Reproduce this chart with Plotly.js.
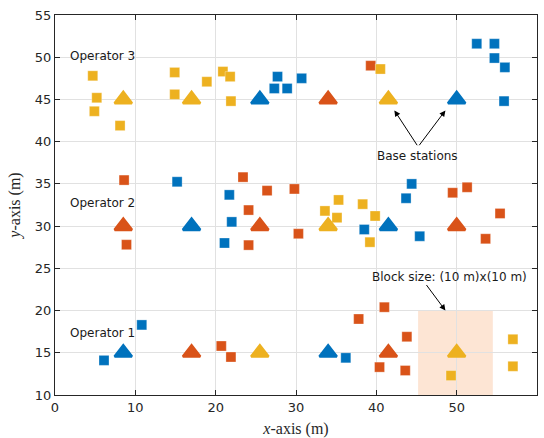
<!DOCTYPE html>
<html>
<head>
<meta charset="utf-8">
<script src="https://cdn.plot.ly/plotly-3.0.1.min.js"></script>
<style>html,body{margin:0;padding:0;background:#fff;}#chart{width:544px;height:438px;}</style>
</head>
<body>
<div id="chart"></div>
<script>
// Users (squares) by colour
const blueUserX = [27.7,27.3,28.9,30.7,52.5,54.7,54.7,56.0,55.9,15.2,21.7,22.0,21.1,38.5,44.4,43.7,45.4,6.1,10.8,36.2];
const blueUserY = [47.7,46.3,46.3,47.5,51.6,51.6,49.9,48.8,44.8,35.25,33.7,30.5,28.0,29.6,35.0,33.3,28.8,14.1,18.3,14.4];
const redUserX = [39.3,8.6,23.4,26.4,29.8,24.1,8.9,24.1,30.3,49.5,51.3,55.4,53.6,20.7,21.9,37.8,41.0,43.8,40.4,43.6];
const redUserY = [49.0,35.45,35.8,34.2,34.4,31.9,27.8,27.75,29.1,33.95,34.6,31.5,28.5,15.8,14.5,19.0,20.4,16.9,13.3,12.9];
const yellowUserX = [4.7,5.2,4.9,8.1,14.9,14.9,18.9,20.9,21.8,21.9,40.5,35.3,33.6,35.1,38.3,39.85,39.2,49.3,57.0,57.0];
const yellowUserY = [47.8,45.2,43.6,41.9,48.2,45.6,47.1,48.3,47.7,44.8,48.6,33.1,31.8,31.0,32.6,31.2,28.1,12.3,16.6,13.4];
// Base stations (triangles) by colour
const blueBsX = [8.5,34,17,41.5,25.5,50];
const blueBsY = [15,15,30,30,45,45];
const redBsX = [17,41.5,8.5,25.5,50,34];
const redBsY = [15,15,30,30,30,45];
const yellowBsX = [25.5,50,34,8.5,17,41.5];
const yellowBsY = [15,15,30,45,45,45];
// Text labels
const opLabels = ["Operator 1","Operator 2","Operator 3"];
const opLabelY = [17.4,32.7,50.1];
const xTicks = [0,10,20,30,40,50,60];
const yTicks = [10,15,20,25,30,35,40,45,50,55];

const C_BLUE = '#0072BD', C_RED = '#D95319', C_YEL = '#EDB120';
function users(x,y,c){return {x:x,y:y,type:'scatter',mode:'markers',hoverinfo:'skip',
  marker:{symbol:'square',size:10,color:c,line:{width:0.6,color:'rgba(255,255,255,0.5)'}}};}
function bs(x,y,c){return {x:x,y:y,type:'scatter',mode:'markers',hoverinfo:'skip',
  marker:{symbol:'triangle-up',size:15,color:c,line:{width:2.6,color:c}}};}

const data = [
  users(blueUserX,blueUserY,C_BLUE), users(redUserX,redUserY,C_RED), users(yellowUserX,yellowUserY,C_YEL),
  bs(blueBsX,blueBsY,C_BLUE), bs(redBsX,redBsY,C_RED), bs(yellowBsX,yellowBsY,C_YEL)
];

const txtFont = {family:'DejaVu Sans, sans-serif', size:12, color:'#1a1a1a'};
const annotations = opLabels.map((t,i)=>({x:1.6,y:opLabelY[i],xref:'x',yref:'y',text:t,showarrow:false,
  xanchor:'left',yanchor:'middle',font:txtFont}));
annotations.push({x:45.1,y:38.3,xref:'x',yref:'y',text:'Base stations',showarrow:false,font:txtFont,xanchor:'center',yanchor:'middle'});
annotations.push({x:42.25,y:43.7,ax:45.2,ay:39.4,xref:'x',yref:'y',axref:'x',ayref:'y',text:'',showarrow:true,arrowhead:2,arrowsize:1.2,arrowwidth:1,arrowcolor:'#000'});
annotations.push({x:48.6,y:43.7,ax:45.2,ay:39.4,xref:'x',yref:'y',axref:'x',ayref:'y',text:'',showarrow:true,arrowhead:2,arrowsize:1.2,arrowwidth:1,arrowcolor:'#000'});
annotations.push({x:49.1,y:24.0,xref:'x',yref:'y',text:'Block size: (10 m)x(10 m)',showarrow:false,font:txtFont,xanchor:'center',yanchor:'middle'});
annotations.push({x:48.6,y:20.0,ax:46.1,ay:23.2,xref:'x',yref:'y',axref:'x',ayref:'y',text:'',showarrow:true,arrowhead:2,arrowsize:1.2,arrowwidth:1,arrowcolor:'#000'});

const axCommon = {showline:true,linecolor:'#262626',linewidth:1,mirror:'ticks',ticks:'inside',ticklen:5,tickcolor:'#262626',
  showgrid:true,gridcolor:'#e1e1e1',gridwidth:1,zeroline:false,
  tickfont:{family:'DejaVu Sans, sans-serif',size:13,color:'#262626'}};

const layout = {
  width:544,height:438,margin:{l:55,r:7,t:15,b:43},
  paper_bgcolor:'#fff',plot_bgcolor:'#fff',showlegend:false,
  xaxis:Object.assign({},axCommon,{range:[0,60],tickvals:xTicks,ticktext:xTicks.map(String),
    title:{text:'<i>x</i>-axis (m)',font:{family:'Liberation Serif, serif',size:16,color:'#262626'},standoff:12}}),
  yaxis:Object.assign({},axCommon,{range:[10,55],tickvals:yTicks,ticktext:yTicks.map(String),
    title:{text:'<i>y</i>-axis (m)',font:{family:'Liberation Serif, serif',size:16,color:'#262626'},standoff:10}}),
  shapes:[{type:'rect',xref:'x',yref:'y',x0:45.2,x1:54.5,y0:10,y1:20,fillcolor:'rgb(253,229,212)',line:{width:0},layer:'below'}],
  annotations:annotations
};
Plotly.newPlot('chart',data,layout,{staticPlot:true});
</script>
</body>
</html>
